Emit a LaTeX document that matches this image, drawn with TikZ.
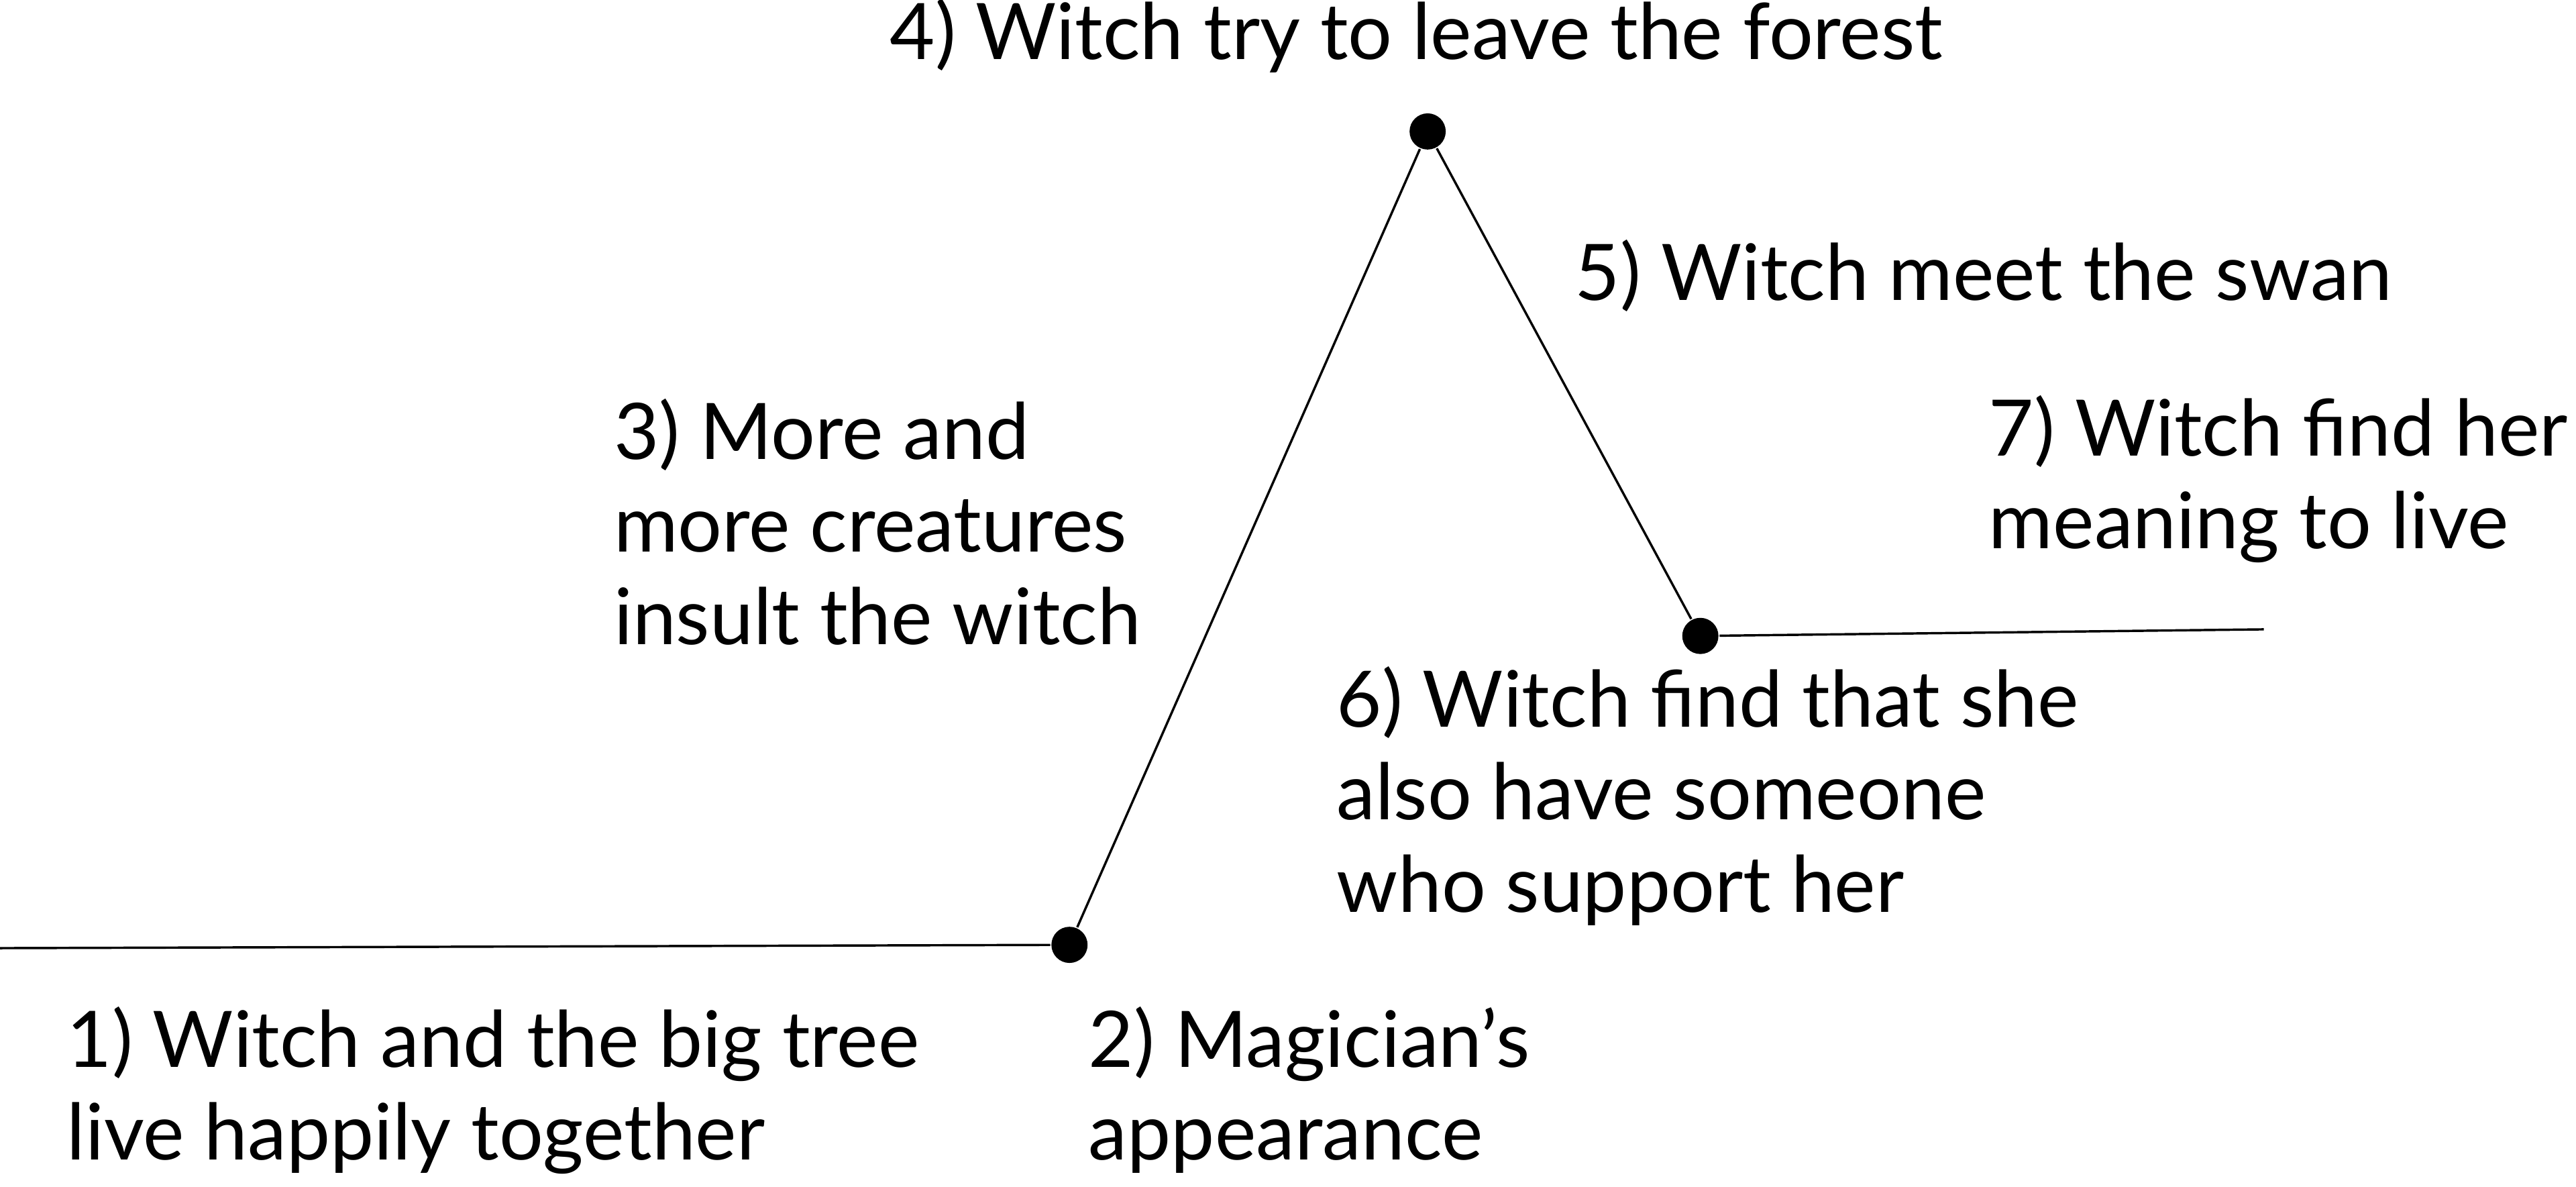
\documentclass[tikz,border=0pt]{standalone}
\usepackage{fontspec}
\setmainfont{Lato}
\begin{document}
\begin{tikzpicture}[x=0.01cm,y=-0.01cm,
  event/.style={anchor=north west,inner sep=0pt,align=left,font=\fontsize{13.5}{16}\selectfont},
  dot/.style={circle,fill=black,inner sep=0pt,minimum size=0.22cm}]
\useasboundingbox (0,0) rectangle (1568,722);
\coordinate (start) at (0,577);
\node[dot] (magic) at (651,575) {};
\node[dot] (peak) at (869,80) {};
\node[dot] (swan) at (1035,387) {};
\coordinate (stop) at (1378,383);
\draw (start) -- (magic) -- (peak) -- (swan) -- (stop);
% labels
\node[event] (t1) at (40,612) {1) Witch and the big tree\\live happily together};
\node[event] (t2) at (662,612) {2) Magician's\\appearance};
\node[event] (t3) at (373,242) {3) More and\\more creatures\\insult the witch};
\node[event,anchor=west] (t4) at (541,22) {4) Witch try to leave the forest};
\node[event,anchor=west] (t5) at (958,168) {5) Witch meet the swan};
\node[event] (t6) at (813,405) {6) Witch find that she\\also have someone\\who support her};
\node[event] (t7) at (1210,240) {7) Witch find her\\meaning to live};
\end{tikzpicture}
\end{document}
